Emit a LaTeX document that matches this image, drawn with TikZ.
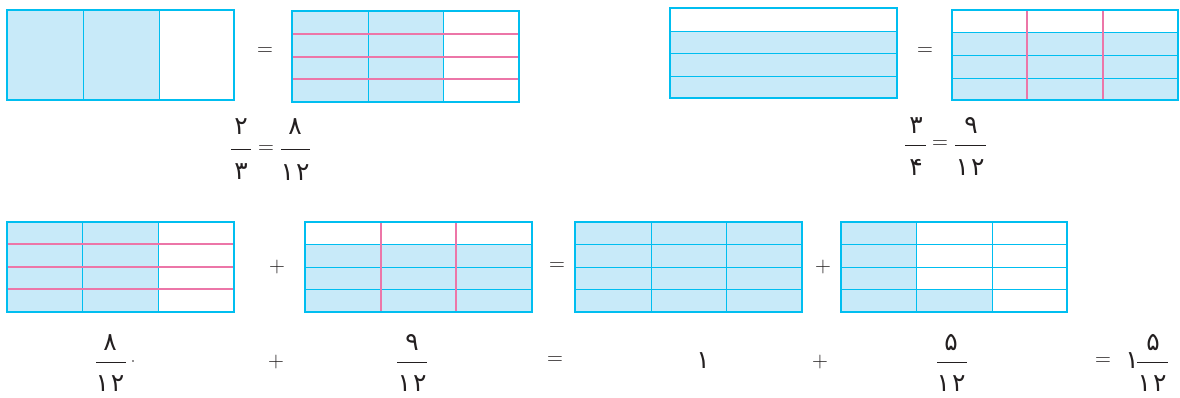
\documentclass[tikz,border=0pt]{standalone}
\usepackage{fontspec}
\newfontfamily\pfont{DejaVu Sans}
\definecolor{frameC}{RGB}{0,190,240}
\definecolor{fillC}{RGB}{200,234,249}
\definecolor{pinkC}{RGB}{236,118,168}
\definecolor{txtC}{RGB}{35,31,32}
\newcommand{\twelve}{۱\kern2pt۲}
\begin{document}
\begin{tikzpicture}[x=1pt,y=-1pt,
  boxframe/.style={draw=frameC,line width=2.8pt},
  gridline/.style={draw=frameC,line width=1pt},
  pinkline/.style={draw=pinkC,line width=1.8pt},
  cell/.style={fill=fillC},
  dig/.style={font=\fontsize{25}{29}\selectfont\pfont, text=txtC, inner sep=0pt, anchor=base},
  sym/.style={font=\fontsize{22}{26}\selectfont, text=txtC, inner sep=0pt},
  fbar/.style={draw=txtC,line width=0.9pt}]
\useasboundingbox (0,0) rectangle (1180,397);

% ---------- Rect A : 2/3 ----------
\fill[cell] (7,10) rectangle (159,100);
\draw[gridline] (83,10) -- (83,100) (159,10) -- (159,100);
\draw[boxframe] (7,10) rectangle (234,100);

% ---------- Rect B : 8/12 ----------
\fill[cell] (292,11) rectangle (443,102);
\draw[gridline] (368,11) -- (368,102) (443,11) -- (443,102);
\draw[pinkline] (292,34) -- (519,34) (292,57) -- (519,57) (292,79) -- (519,79);
\draw[boxframe] (292,11) rectangle (519,102);

% ---------- Rect C : 3/4 ----------
\fill[cell] (670,31) rectangle (897,98);
\draw[gridline] (670,31) -- (897,31) (670,53) -- (897,53) (670,76) -- (897,76);
\draw[boxframe] (670,8) rectangle (897,98);

% ---------- Rect D : 9/12 ----------
\fill[cell] (952,32) rectangle (1178,100);
\draw[gridline] (952,32) -- (1178,32) (952,55) -- (1178,55) (952,78) -- (1178,78);
\draw[pinkline] (1027,10) -- (1027,100) (1103,10) -- (1103,100);
\draw[boxframe] (952,10) rectangle (1178,100);

% ---------- Rect E : 8/12 ----------
\fill[cell] (7,222) rectangle (158,312);
\draw[gridline] (82,222) -- (82,312) (158,222) -- (158,312);
\draw[pinkline] (7,244) -- (234,244) (7,267) -- (234,267) (7,289) -- (234,289);
\draw[boxframe] (7,222) rectangle (234,312);

% ---------- Rect F : 9/12 ----------
\fill[cell] (305,244) rectangle (532,312);
\draw[gridline] (305,244) -- (532,244) (305,267) -- (532,267) (305,289) -- (532,289);
\draw[pinkline] (381,222) -- (381,312) (456,222) -- (456,312);
\draw[boxframe] (305,222) rectangle (532,312);

% ---------- Rect G : 12/12 ----------
\fill[cell] (575,222) rectangle (802,312);
\draw[gridline] (651,222) -- (651,312) (726,222) -- (726,312)
  (575,244) -- (802,244) (575,267) -- (802,267) (575,289) -- (802,289);
\draw[boxframe] (575,222) rectangle (802,312);

% ---------- Rect H : 5/12 ----------
\fill[cell] (841,222) rectangle (916,312);
\fill[cell] (916,289) rectangle (992,312);
\draw[gridline] (916,222) -- (916,312) (992,222) -- (992,312)
  (841,244) -- (1067,244) (841,267) -- (1067,267) (841,289) -- (1067,289);
\draw[boxframe] (841,222) rectangle (1067,312);

% ---------- operators between pictures ----------
\node[sym] (eqA) at (265,52) {=};
\node[sym] (eqB) at (925,52) {=};
\node[sym] (plA) at (277,267) {+};
\node[sym] (eqC) at (557,267) {=};
\node[sym] (plB) at (823,267) {+};

% ---------- top-left equation 2/3 = 8/12 ----------
\node[dig] (n1) at (241,134) {۲};
\draw[fbar] (231,149) -- (251,149);
\node[dig] (d1) at (241,179) {۳};
\node[sym] (e1) at (266,150) {=};
\node[dig] (n2) at (295,134) {۸};
\draw[fbar] (281,149) -- (310,149);
\node[dig] (d2) at (295,180) {\twelve};

% ---------- top-right equation 3/4 = 9/12 ----------
\node[dig] (n3) at (916,133) {۳};
\draw[fbar] (905,145) -- (926,145);
\node[dig] (d3) at (916,175) {۴};
\node[sym] (e2) at (940,145) {=};
\node[dig] (n4) at (971,133) {۹};
\draw[fbar] (955,145) -- (986,145);
\node[dig] (d4) at (970,175) {\twelve};

% ---------- bottom line ----------
\node[dig] (n5) at (110,350) {۸};
\draw[fbar] (96,362) -- (126,362);
\node[dig] (d5) at (110,391) {\twelve};
\fill[txtC] (133,361) circle (0.8pt);
\node[sym] (p1) at (276,362) {+};
\node[dig] (n6) at (412,350) {۹};
\draw[fbar] (397,362) -- (427,362);
\node[dig] (d6) at (412,391) {\twelve};
\node[sym] (e3) at (555,361) {=};
\node[dig] (one1) at (703,368) {۱};
\node[sym] (p2) at (820,362) {+};
\node[dig] (n7) at (951,350) {۵};
\draw[fbar] (937,362) -- (967,362);
\node[dig] (d7) at (951,391) {\twelve};
\node[sym] (e4) at (1103,362) {=};
\node[dig] (one2) at (1132,368) {۱};
\node[dig] (n8) at (1153,350) {۵};
\draw[fbar] (1137,362) -- (1168,362);
\node[dig] (d8) at (1152,391) {\twelve};
\end{tikzpicture}
\end{document}
